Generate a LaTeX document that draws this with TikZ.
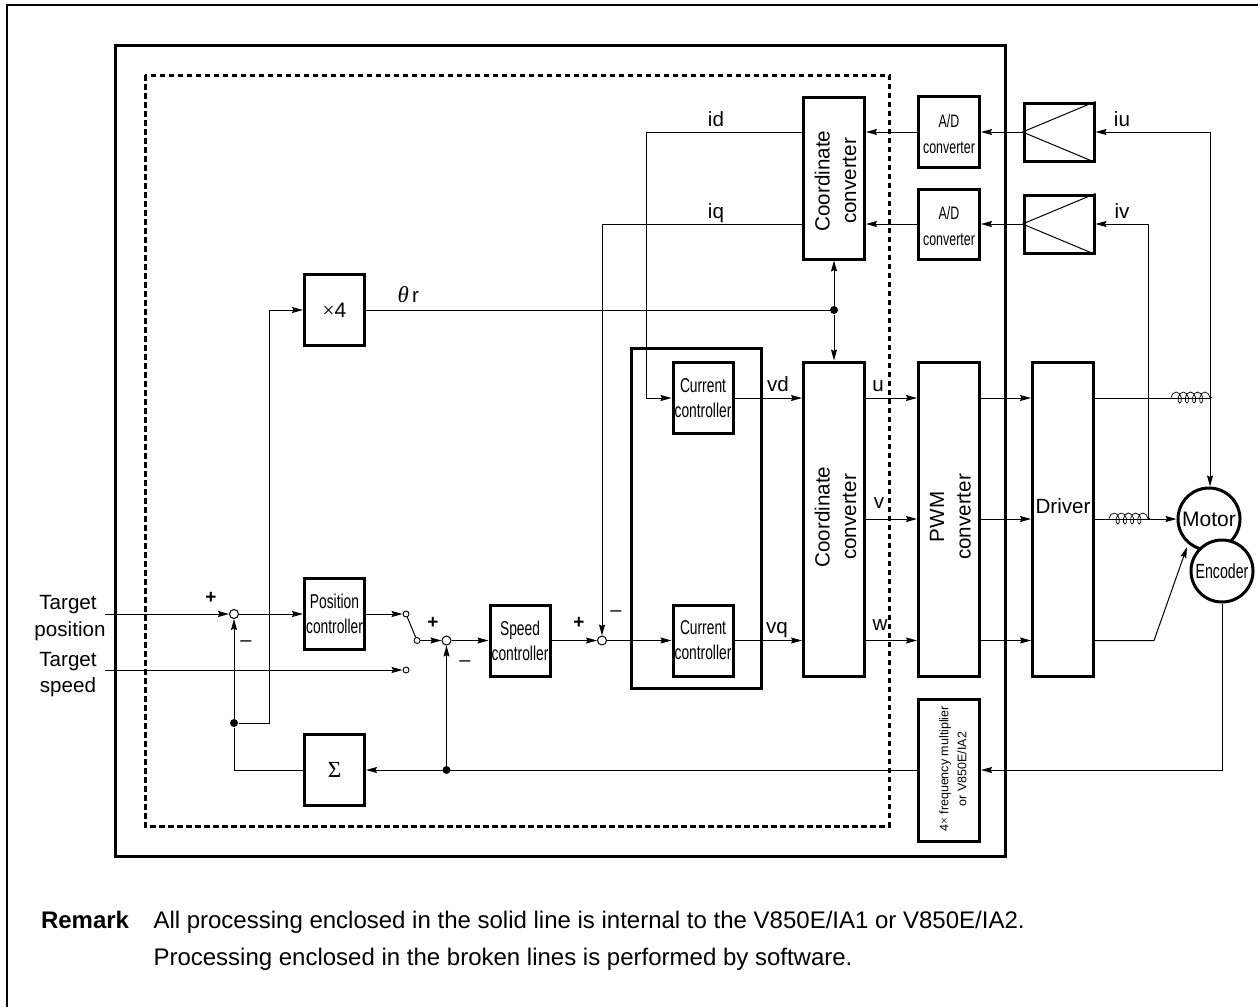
\documentclass[tikz,border=0pt]{standalone}
\usepackage{fontspec}
\setmainfont{Liberation Sans}
\newfontfamily\condfont[FakeStretch=0.69]{Liberation Sans}
\newfontfamily\greekfont{Liberation Serif}
\usetikzlibrary{arrows.meta,decorations.pathmorphing}
\tikzset{
    blockbox/.style={draw, line width=3pt, inner sep=0pt, align=center, font=\fontsize{20}{25}\selectfont\condfont},
    adtxt/.style={align=center, inner sep=0pt, yshift=-2.5pt, font=\fontsize{18}{26}\selectfont\condfont},
    vtext/.style={rotate=90, align=center, inner sep=0pt, font=\fontsize{20.6}{26.5}\selectfont, yshift=-1.5pt, xshift=2pt},
    dotnode/.style={circle, fill=black, inner sep=0pt, minimum size=8pt},
    sumnode/.style={circle, draw, fill=white, line width=1pt, inner sep=0pt, minimum size=9pt},
    swnode/.style={circle, draw, fill=white, line width=0.9pt, inner sep=0pt, minimum size=6pt},
    motornode/.style={circle, draw, fill=white, line width=3pt, inner sep=0pt, minimum size=62pt},
    txt/.style={font=\fontsize{20.6}{25}\selectfont, anchor=base, inner sep=0pt},
    plustxt/.style={font=\fontsize{19}{21}\selectfont\bfseries, inner sep=0pt},
    minustxt/.style={font=\fontsize{20}{21}\selectfont, inner sep=0pt},
    rmktxt/.style={font=\fontsize{24}{28}\selectfont, anchor=base west, inner sep=0pt},
    coilline/.style={decorate, decoration={coil, aspect=0.6, segment length=7.2pt, amplitude=5.5pt}},
}
\begin{document}
\begin{tikzpicture}[x=1pt, y=-1pt, >={Stealth[length=11pt,width=6pt,inset=1.5pt]}, line width=1pt]
    \useasboundingbox (0,0) rectangle (1258,1007);
    % Page rules
    \draw[line width=2pt] (1258,5) -- (7,5) -- (7,1007);

    % Solid and broken enclosures
    \draw[line width=3pt] (115,45) rectangle (1005,856);
    \draw[line width=3pt, dash pattern=on 5.5pt off 3.5pt] (145,75) rectangle (889,826);

    % Blocks
    \node[blockbox, minimum width=60, minimum height=71, font=\fontsize{21}{25}\selectfont] (mul) at (334.5,310) {{\greekfont ×}4};
    \node[blockbox, minimum width=60, minimum height=71] (posctl) at (334.5,614) {Position\\controller};
    \node[blockbox, minimum width=60, minimum height=71, font=\fontsize{23}{25}\selectfont\greekfont] (sumblk) at (334.5,770) {Σ};
    \node[blockbox, minimum width=60, minimum height=71] (spdctl) at (520,640.5) {Speed\\controller};
    \node[blockbox, minimum width=130, minimum height=340] (curgrp) at (696,518) {};
    \node[blockbox, fill=white, minimum width=60, minimum height=71] (curu) at (703,398) {Current\\controller};
    \node[blockbox, fill=white, minimum width=60, minimum height=71] (curv) at (703,640.5) {Current\\controller};
    \node[blockbox, minimum width=61, minimum height=162, label={[vtext, xshift=-5pt]center:Coordinate\\converter}] (cctop) at (834,178) {};
    \node[blockbox, minimum width=61, minimum height=314, label={[vtext]center:Coordinate\\converter}] (cclow) at (834,519) {};
    \node[blockbox, minimum width=61, minimum height=71, label={[adtxt]center:A/D\\converter}] (adu) at (949,132) {};
    \node[blockbox, minimum width=61, minimum height=70, label={[adtxt]center:A/D\\converter}] (adv) at (949,224) {};
    \node[blockbox, minimum width=70, minimum height=58] (ampu) at (1059,132) {};
    \node[blockbox, minimum width=70, minimum height=58] (ampv) at (1059,224) {};
    \node[blockbox, minimum width=61, minimum height=314, label={[vtext]center:PWM\\converter}] (pwm) at (949,519) {};
    \node[blockbox, minimum width=61, minimum height=314, label={[font=\fontsize{20.6}{25}\selectfont, inner sep=0pt, yshift=13pt]center:Driver}] (drv) at (1063,519) {};
    \node[blockbox, minimum width=61, minimum height=142, label={[vtext, font=\fontsize{12.5}{18}\selectfont, yshift=-2.5pt, xshift=-1pt]center:4{\greekfont ×} frequency multiplier\\or V850E/IA2}] (mult) at (949,770) {};
    \node[motornode, font=\fontsize{21}{25}\selectfont] (motor) at (1209,519) {Motor};
    \node[motornode, font=\fontsize{20.5}{25}\selectfont\condfont] (enc) at (1222,571) {Encoder};

    % Amplifier triangles
    \draw (ampu.west) -- (ampu.north east);
    \draw (ampu.west) -- (ampu.south east);
    \draw (ampv.west) -- (ampv.north east);
    \draw (ampv.west) -- (ampv.south east);

    % Summing points, switch, junctions
    \node[sumnode] (suma) at (234,614) {};
    \node[sumnode] (sumb) at (446.5,640.5) {};
    \node[sumnode] (sumc) at (602,640.5) {};
    \node[swnode] (swa) at (406,614) {};
    \node[swnode] (swb) at (406,670) {};
    \node[swnode] (swc) at (417,640.5) {};
    \node[dotnode] (dota) at (234,723) {};
    \node[dotnode] (dotb) at (446.5,770) {};
    \node[dotnode] (dotc) at (834,310) {};
    \coordinate (inpos) at (105,614);
    \coordinate (inspd) at (105,670);
    \coordinate (mulin) at (269,310);
    \coordinate (idturn) at (646,398);
    \coordinate (upturn) at (1210,398);
    \coordinate (vpturn) at (1148,519);
    \coordinate (wbend) at (1154,640.5);
    \coordinate (wend) at (1187,547);

    % Inputs and position loop
    \draw[->] (inpos) -- (suma);
    \draw[->] (suma) -- (posctl);
    \draw[->] (posctl) -- (swa);
    \draw[->] (inspd) -- (swb);
    \draw (swa) -- (swc);
    \draw[->] (swc) -- (sumb);
    \draw[->] (sumb) -- (spdctl);
    \draw[->] (spdctl) -- (sumc);
    \draw[->] (sumc) -- (curv);
    \draw[->] (curv) -- (cclow.west |- curv);
    \draw[->] (curu) -- (cclow.west |- curu);

    % Feedback
    \draw[->] (enc.south) |- (mult.east);
    \draw[->] (mult.west) -- (sumblk.east);
    \draw (sumblk.west) -| (dota);
    \draw[->] (dota) -- (suma);
    \draw[->] (dotb) -- (sumb);
    \draw[->] (dota) -| (mulin) -- (mul.west);
    \draw (mul.east) -- (dotc);
    \draw[->] (dotc) -- (cctop.south);
    \draw[->] (dotc) -- (cclow.north);

    % Measured currents
    \draw[->] (cctop.west |- adu) -| (idturn) -- (curu.west);
    \draw[->] (cctop.west |- adv) -| (sumc);
    \draw[->] (adu) -- (cctop.east |- adu);
    \draw[->] (adv) -- (cctop.east |- adv);
    \draw[->] (ampu) -- (adu);
    \draw[->] (ampv) -- (adv);
    \draw[->] (upturn) |- (ampu.east);
    \draw[->] (vpturn) |- (ampv.east);

    % Outputs
    \draw[->] (cclow.east |- curu) -- (pwm.west |- curu);
    \draw[->] (cclow) -- (pwm);
    \draw[->] (cclow.east |- curv) -- (pwm.west |- curv);
    \draw[->] (pwm.east |- curu) -- (drv.west |- curu);
    \draw[->] (pwm) -- (drv);
    \draw[->] (pwm.east |- curv) -- (drv.west |- curv);
    \draw (drv.east |- curu) -- (upturn);
    \draw[->] (upturn) -- (motor.north -| upturn);
    \draw[->] (drv) -- (motor.west);
    \draw[->] (drv.east |- curv) -- (wbend) -- (wend);

    % Coils
    \draw[line width=0.7pt, coilline] (1171,397.5) -- (1212,397.5);
    \draw[line width=0.7pt, coilline] (1109,518.5) -- (1150,518.5);

    % Labels
    \node[txt] (lbla) at (68,609) {Target};
    \node[txt] (lblb) at (70,636) {position};
    \node[txt] (lblc) at (68,666) {Target};
    \node[txt] (lbld) at (68,692) {speed};
    \node[txt] (lblid) at (716,126) {id};
    \node[txt] (lbliq) at (716,218) {iq};
    \node[txt] (lbliu) at (1122,126) {iu};
    \node[txt] (lbliv) at (1122,218) {iv};
    \node[txt, anchor=base west] (lblth) at (397,302) {{\fontsize{23}{25}\selectfont\greekfont\itshape θ}\,r};
    \node[txt] (lblvd) at (778,391) {vd};
    \node[txt] (lblvq) at (777,633) {vq};
    \node[txt] (lblu) at (878,391) {u};
    \node[txt] (lblv) at (879,508) {v};
    \node[txt] (lblw) at (880,630) {w};
    \node[plustxt] (pla) at (211,598) {+};
    \node[minustxt] (mia) at (246,644) {–};
    \node[plustxt] (plb) at (433,623) {+};
    \node[minustxt] (mib) at (465,664) {–};
    \node[plustxt] (plc) at (579,623) {+};
    \node[minustxt] (mic) at (616,614) {–};

    % Remark
    \node[rmktxt, font=\fontsize{24}{28}\selectfont\bfseries] (rmk) at (40.5,928) {Remark};
    \node[rmktxt] (rmka) at (153,928) {All processing enclosed in the solid line is internal to the V850E/IA1 or V850E/IA2.};
    \node[rmktxt] (rmkb) at (153,965) {Processing enclosed in the broken lines is performed by software.};
\end{tikzpicture}
\end{document}
